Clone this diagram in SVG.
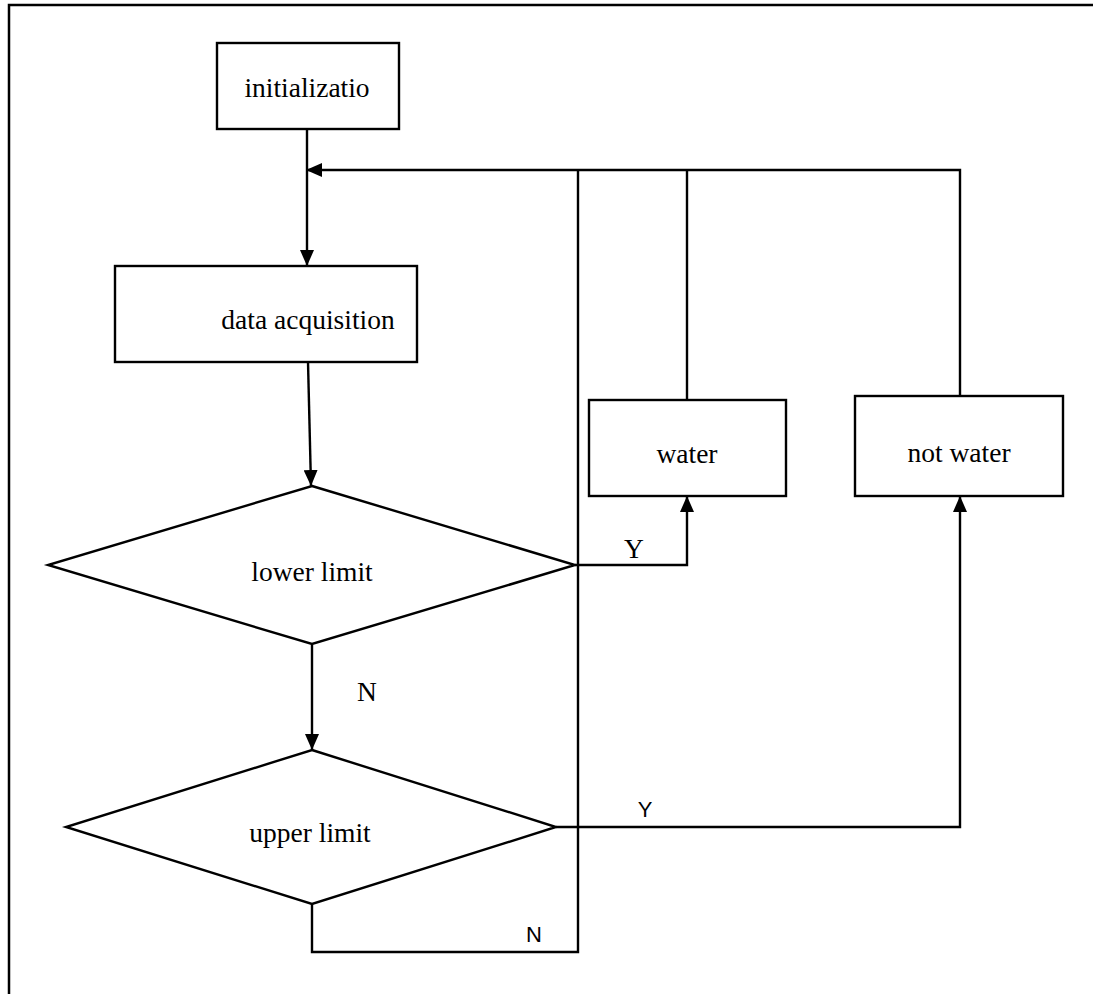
<svg xmlns="http://www.w3.org/2000/svg" width="1093" height="994" viewBox="0 0 1093 994">
<style>
.shape{fill:#fff;stroke:#000;stroke-width:2.4}
.line{fill:none;stroke:#000;stroke-width:2.4}
.t{font-family:"Liberation Serif","Times New Roman",serif;font-size:27.5px;fill:#000;text-anchor:middle}
.s{font-family:"Liberation Sans",Arial,sans-serif;font-size:22px;fill:#000;text-anchor:middle}
</style>
<defs>
<marker id="ah" viewBox="0 0 16 14" refX="16" refY="7" markerWidth="16" markerHeight="14" markerUnits="userSpaceOnUse" orient="auto">
<path d="M0,0 L16,7 L0,14 Z" fill="#000"/>
</marker>
</defs>
<rect width="1093" height="994" fill="#fff"/>
<path d="M9,994 V5 H1093" fill="none" stroke="#000" stroke-width="2.5"/>
<g id="connectors">
<path class="line" d="M307,130 V266" marker-end="url(#ah)"/>
<path class="line" d="M308,362 L311,486" marker-end="url(#ah)"/>
<path class="line" d="M312,645 V750" marker-end="url(#ah)"/>
<path class="line" d="M575,565 H687 V496" marker-end="url(#ah)"/>
<path class="line" d="M556,827 H960 V496" marker-end="url(#ah)"/>
<path class="line" d="M312,904 V952 H578 V170"/>
<path class="line" d="M687,400 V170"/>
<path class="line" d="M960,396 V170 H306" marker-end="url(#ah)"/>
<text class="t" x="634" y="558">Y</text>
<text class="t" x="367" y="701">N</text>
<text class="s" x="645" y="817">Y</text>
<text class="s" x="534" y="942">N</text>
</g>
<g id="init">
<rect class="shape" x="217" y="43" width="182" height="86"/>
<text class="t" x="307" y="97">initializatio</text>
</g>
<g id="acq">
<rect class="shape" x="115" y="266" width="302" height="96"/>
<text class="t" x="308" y="329">data acquisition</text>
</g>
<g id="lower">
<polygon class="shape" points="312,486 575,565 312,644 48,565"/>
<text class="t" x="312" y="581">lower limit</text>
</g>
<g id="upper">
<polygon class="shape" points="312,750 556,827 312,904 66,827"/>
<text class="t" x="310" y="842">upper limit</text>
</g>
<g id="water">
<rect class="shape" x="589" y="400" width="197" height="96"/>
<text class="t" x="687" y="463">water</text>
</g>
<g id="notwater">
<rect class="shape" x="855" y="396" width="208" height="100"/>
<text class="t" x="959" y="462">not water</text>
</g>
</svg>
